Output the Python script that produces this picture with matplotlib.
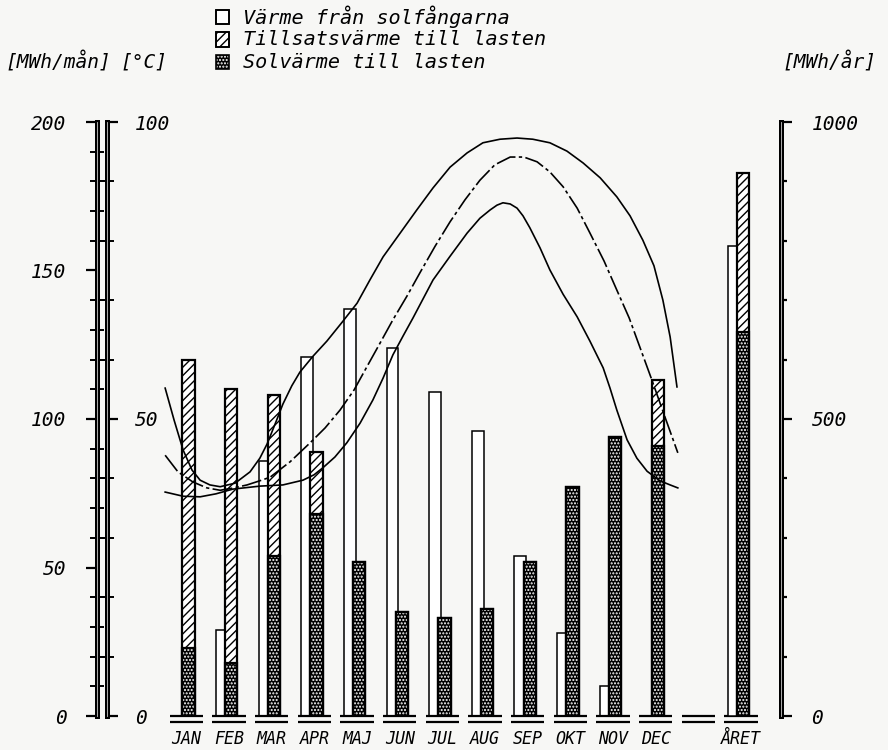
import matplotlib
matplotlib.use("Agg")
import matplotlib.pyplot as plt
from matplotlib.patches import Rectangle
from matplotlib.ticker import MultipleLocator

plt.rcParams['font.family'] = ['DejaVu Sans Mono', 'DejaVu Sans']
plt.rcParams['font.style'] = 'italic'

# ---- data ----
manader = ["JAN", "FEB", "MAR", "APR", "MAJ", "JUN", "JUL", "AUG", "SEP", "OKT", "NOV", "DEC"]
# MWh/mån
solfangare = [0, 29, 86, 121, 137, 124, 109, 96, 54, 28, 10, 0]     # värme från solfångarna
last = [120, 110, 108, 89, 52, 35, 33, 36, 52, 77, 94, 113]          # total last (tillsats + sol)
solvarme = [23, 18, 54, 68, 52, 35, 33, 36, 52, 77, 94, 91]          # solvärme till lasten
# MWh/år
aret_label = "ÅRET"
aret_solfangare = 792
aret_last = 914
aret_solvarme = 646

# temperature curves [°C], x = month position (JAN = 0)
kurva1_x = [-0.50, -0.29, -0.08, 0.13, 0.32, 0.55, 0.79, 1.14, 1.49, 1.72, 1.89, 2.08,
            2.26, 2.47, 2.66, 2.97, 3.29, 3.65, 4.00, 4.30, 4.61, 5.01, 5.40, 5.78,
            6.18, 6.58, 6.95, 7.35, 7.75, 8.12, 8.52, 8.92, 9.30, 9.70, 10.09, 10.40,
            10.70, 10.96, 11.17, 11.34, 11.50]
kurva1_t = [55.2, 49.8, 44.8, 41.4, 39.7, 38.9, 38.6, 39.2, 41.1, 43.4, 45.8, 49.2,
            52.5, 55.6, 57.9, 60.6, 63.1, 66.3, 69.5, 73.4, 77.3, 81.3, 85.2, 88.9,
            92.4, 94.8, 96.5, 97.1, 97.3, 97.1, 96.5, 95.1, 93.1, 90.6, 87.4, 84.2,
            80.1, 75.8, 70.0, 63.8, 55.4]
kurva2_x = [-0.50, -0.20, 0.15, 0.48, 0.79, 1.11, 1.42, 1.72, 1.96, 2.43, 2.90, 3.25,
            3.60, 3.93, 4.23, 4.54, 4.84, 5.17, 5.48, 5.83, 6.18, 6.53, 6.88, 7.23,
            7.59, 7.91, 8.22, 8.52, 8.83, 9.16, 9.46, 9.79, 10.09, 10.38, 10.63, 10.91,
            11.22, 11.52]
kurva2_t = [43.9, 41.1, 39.4, 38.4, 38.0, 38.4, 38.9, 39.6, 40.2, 42.8, 46.0, 48.5,
            51.5, 54.9, 58.8, 62.8, 66.7, 70.7, 74.7, 79.1, 83.2, 86.9, 90.2, 92.8,
            94.1, 94.1, 93.3, 91.6, 89.1, 85.5, 81.3, 76.6, 71.7, 67.0, 62.1, 56.6,
            50.3, 44.3]
kurva3_x = [-0.50, -0.08, 0.32, 0.69, 1.09, 1.72, 2.26, 2.73, 2.99, 3.20, 3.48, 3.76,
            4.07, 4.37, 4.61, 4.84, 5.08, 5.31, 5.78, 6.18, 6.58, 6.88, 7.12, 7.28,
            7.42, 7.59, 7.75, 7.89, 8.05, 8.29, 8.52, 8.83, 9.16, 9.46, 9.77, 9.93,
            10.09, 10.33, 10.56, 10.80, 11.10, 11.34, 11.52]
kurva3_t = [37.7, 37.0, 36.9, 37.4, 38.2, 38.7, 38.9, 39.7, 40.6, 41.8, 43.6, 46.0,
            49.3, 53.2, 56.9, 60.8, 64.0, 67.0, 73.4, 77.4, 81.3, 83.8, 85.2, 86.0,
            86.4, 86.2, 85.5, 84.2, 82.2, 78.8, 75.1, 71.0, 67.2, 63.1, 58.6, 55.2,
            51.5, 46.5, 43.4, 41.2, 39.6, 38.9, 38.4]

bg = '#f7f7f5'
fs = 14

fig = plt.figure(figsize=(8.88, 7.5), dpi=100)
fig.patch.set_facecolor(bg)

ax = fig.add_axes([97 / 888, 34 / 750, 684 / 888, 594 / 750])
ax.patch.set_visible(False)
ax_c = ax.twinx()
ax_a = ax.twinx()

pos = list(range(len(manader)))
aret_pos = len(manader) + 1

ax.set_xlim(-2.098, 13.939)
ax.set_ylim(0, 200)
ax_c.set_ylim(0, 100)
ax_a.set_ylim(0, 1000)

w_white = 0.28
w_dark = 0.29
off_white = -0.17
off_dark = 0.05

# monthly bars
ax.bar([p + off_white for p in pos], solfangare, width=w_white, facecolor='white',
       edgecolor='black', lw=1.1, zorder=2)
ax.bar([p + off_dark for p in pos], last, width=w_dark, facecolor='white',
       edgecolor='black', hatch='////', lw=1.6, zorder=3)
ax.bar([p + off_dark for p in pos], solvarme, width=w_dark, facecolor='black',
       edgecolor='white', hatch='.....', lw=0, zorder=4)
ax.bar([p + off_dark for p in pos], solvarme, width=w_dark, fill=False,
       edgecolor='black', lw=1.6, zorder=5)

# yearly bars
ax_a.bar([aret_pos + off_white], [aret_solfangare], width=w_white, facecolor='white',
         edgecolor='black', lw=1.1, zorder=2)
ax_a.bar([aret_pos + off_dark], [aret_last], width=w_dark, facecolor='white',
         edgecolor='black', hatch='////', lw=1.6, zorder=3)
ax_a.bar([aret_pos + off_dark], [aret_solvarme], width=w_dark, facecolor='black',
         edgecolor='white', hatch='.....', lw=0, zorder=4)
ax_a.bar([aret_pos + off_dark], [aret_solvarme], width=w_dark, fill=False,
         edgecolor='black', lw=1.6, zorder=5)

# double base lines under each slot
for p in range(len(manader) + 2):
    for yb in (0, -2.1):
        ax.plot([p - 0.39, p + 0.39], [yb, yb], color='black', lw=1.6,
                solid_capstyle='butt', clip_on=False, zorder=6)

# temperature curves
ax_c.plot(kurva1_x, kurva1_t, color='black', lw=1.2, zorder=7)
ax_c.plot(kurva2_x, kurva2_t, color='black', lw=1.2, ls=(0, (12, 2, 2, 2)), zorder=7)
ax_c.plot(kurva3_x, kurva3_t, color='black', lw=1.2, zorder=7)

# month labels
ax.set_xticks(list(pos) + [len(manader), aret_pos])
ax.set_xticklabels(manader + ["", aret_label], fontsize=12)
ax.tick_params(axis='x', length=0, pad=10)

# spines
for a in (ax, ax_c, ax_a):
    for s in a.spines.values():
        s.set_visible(False)

ax.spines['left'].set_visible(True)
ax.spines['left'].set_linewidth(3.6)
ax.yaxis.set_major_locator(MultipleLocator(50))
ax.yaxis.set_minor_locator(MultipleLocator(10))
ax.tick_params(axis='y', which='major', direction='out', length=8, width=1.6,
               labelsize=fs, pad=14)
ax.tick_params(axis='y', which='minor', direction='inout', length=10, width=1.4)

ax_c.spines['right'].set_visible(True)
ax_c.spines['right'].set_position(('axes', 10 / 684))
ax_c.spines['right'].set_linewidth(3.6)
ax_c.yaxis.set_major_locator(MultipleLocator(50))
ax_c.yaxis.set_minor_locator(MultipleLocator(10))
ax_c.tick_params(axis='y', which='major', direction='out', length=8, width=1.6,
                 labelsize=fs, pad=12)
ax_c.tick_params(axis='y', which='minor', direction='inout', length=10, width=1.4)

ax_a.spines['right'].set_visible(True)
ax_a.spines['right'].set_linewidth(3.6)
ax_a.yaxis.set_major_locator(MultipleLocator(500))
ax_a.yaxis.set_minor_locator(MultipleLocator(100))
ax_a.tick_params(axis='y', which='major', direction='out', length=8, width=1.6,
                 labelsize=fs, pad=14)
ax_a.tick_params(axis='y', which='minor', direction='out', length=4, width=1.6)

# thin light centre line to give the double-line axis look (drawn in the top axes)
for xa in (0, 10 / 684, 1):
    ax_a.plot([xa, xa], [0, 1], transform=ax.transAxes, color='#c8c8c8', lw=0.6,
              clip_on=False, zorder=8)

# axis headers
fig.text(5 / 888, 1 - 62 / 750, "[MWh/mån]", fontsize=fs, va='center', ha='left')
fig.text(120 / 888, 1 - 62 / 750, "[°C]", fontsize=fs, va='center', ha='left')
fig.text(782 / 888, 1 - 62 / 750, "[MWh/år]", fontsize=fs, va='center', ha='left')

# legend
legend_rows = [
    ("Värme från solfångarna", dict(facecolor='white', edgecolor='black', hatch=None)),
    ("Tillsatsvärme till lasten", dict(facecolor='white', edgecolor='black', hatch='////')),
    ("Solvärme till lasten", dict(facecolor='black', edgecolor='white', hatch='.....')),
]
for i, (txt, kw) in enumerate(legend_rows):
    yc = 17 + 22.5 * i
    r = Rectangle((216 / 888, 1 - (yc + 7) / 750), 13 / 888, 14 / 750,
                  transform=fig.transFigure, lw=0 if kw['facecolor'] == 'black' else 1.2, **kw)
    fig.add_artist(r)
    fig.add_artist(Rectangle((216 / 888, 1 - (yc + 7) / 750), 13 / 888, 14 / 750,
                             transform=fig.transFigure, fill=False, edgecolor='black', lw=1.2))
    fig.text(243 / 888, 1 - yc / 750, txt, fontsize=14.5, va='center', ha='left')

fig.savefig("out.png", dpi=100, facecolor=bg)
